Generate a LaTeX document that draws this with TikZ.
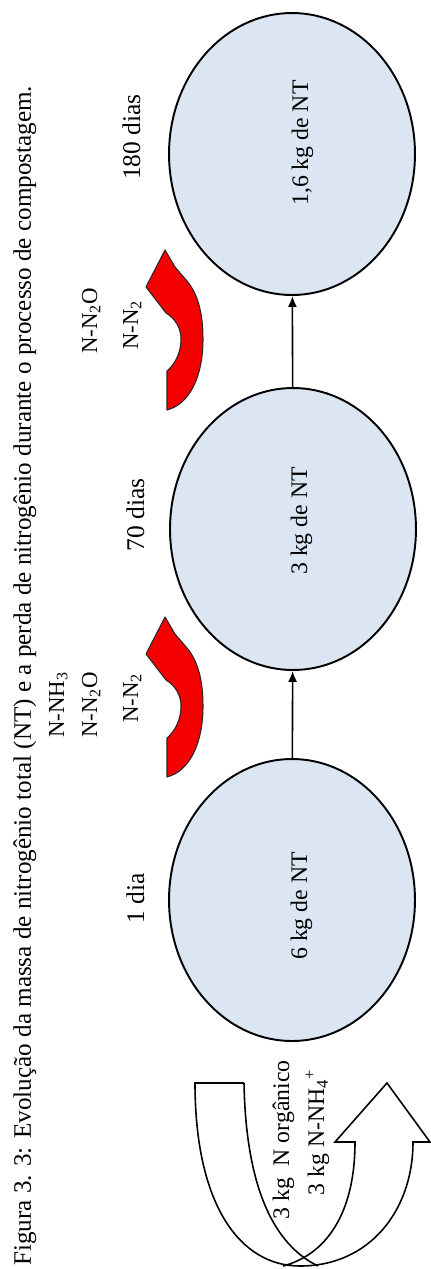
\documentclass[tikz,border=0pt]{standalone}
\usepackage{fontspec}
\setmainfont{Liberation Serif}
\usetikzlibrary{shapes.geometric,arrows.meta}
\definecolor{ellfill}{RGB}{220,230,242}
\definecolor{lossred}{RGB}{245,0,0}
\begin{document}
\begin{tikzpicture}[x=0.02cm,y=-0.02cm,
  stage/.style={ellipse, draw=black, line width=1.1pt, fill=ellfill, minimum width=4.92cm, minimum height=5.64cm, inner sep=0pt},
  conn/.style={-{Latex[length=2.2mm,width=1.8mm]}, line width=0.9pt},
  rlabel/.style={rotate=90, inner sep=0pt, anchor=base},
  captxt/.style={rlabel, anchor=base west, font=\fontsize{14.3}{16}\selectfont},
  daytxt/.style={rlabel, font=\fontsize{14.5}{17}\selectfont},
  masstxt/.style={rlabel, font=\fontsize{13.5}{16}\selectfont},
  gastxt/.style={rlabel, font=\fontsize{13}{15}\selectfont},
  losspath/.style={fill=lossred, draw=black!85, line width=0.6pt, line join=round},
  upath/.style={draw=black, line width=0.9pt, line join=miter}
]
\useasboundingbox (0,0) rectangle (431,1269);

% caption
\node[captxt] (cap) at (31,1266) {Figura 3. 3: Evolução da massa de nitrogênio total (NT) e a perda de nitrogênio durante o processo de compostagem.};

% stages
\node[stage] (e1) at (292,900) {};
\node[stage] (e2) at (293,529) {};
\node[stage] (e3) at (292,154) {};
\draw[conn] (e1) -- (e2);
\draw[conn] (e2) -- (e3);

\node[masstxt] (m1) at (307,906) {6 kg de NT};
\node[masstxt] (m2) at (307,521) {3 kg de NT};
\node[masstxt] (m3) at (308,143) {1,6 kg de NT};

% days
\node[daytxt] (d1) at (144,898) {1 dia};
\node[daytxt] (d2) at (144,515) {70 dias};
\node[daytxt] (d3) at (140,137) {180 dias};

% losses
\begin{scope}[shift={(165,698)}]
\path[losspath] (2,79) .. controls (25,73) and (38,45) .. (38,8) .. controls (38,-20) and (32,-38) .. (22,-50) -- (10,-64) -- (0,-81) -- (-19,-44) -- (1,-18) .. controls (11,-12) and (16,-2) .. (16,8) .. controls (16,22) and (10,33) .. (2,40) -- cycle;
\end{scope}
\begin{scope}[shift={(165,331)}]
\path[losspath] (2,79) .. controls (25,73) and (38,45) .. (38,8) .. controls (38,-20) and (32,-38) .. (22,-50) -- (10,-64) -- (0,-81) -- (-19,-44) -- (1,-18) .. controls (11,-12) and (16,-2) .. (16,8) .. controls (16,22) and (10,33) .. (2,40) -- cycle;
\end{scope}

\node[gastxt] (g1a) at (64,705) {N-NH\textsubscript{3}};
\node[gastxt] (g1b) at (97,705) {N-N\textsubscript{2}O};
\node[gastxt] (g1c) at (138,698) {N-N\textsubscript{2}};
\node[gastxt] (g2b) at (97,321) {N-N\textsubscript{2}O};
\node[gastxt] (g2c) at (138,325) {N-N\textsubscript{2}};

% input U-turn arrow
\draw[upath] (244,1083) -- (195,1083) .. controls (195,1205) and (240,1266) .. (300,1266) .. controls (370,1266) and (413,1210) .. (413,1142) -- (430,1142) -- (387,1083) -- (335,1142) -- (355,1142) .. controls (355,1215) and (325,1255) .. (283,1266);
\draw[upath] (244,1083) .. controls (246,1190) and (275,1245) .. (318,1266);

\node[masstxt] (in1) at (289,1140) {3 kg\enspace N orgânico};
\node[masstxt] (in2) at (324,1132) {3 kg N-NH\textsubscript{4}\textsuperscript{+}};
\end{tikzpicture}
\end{document}
